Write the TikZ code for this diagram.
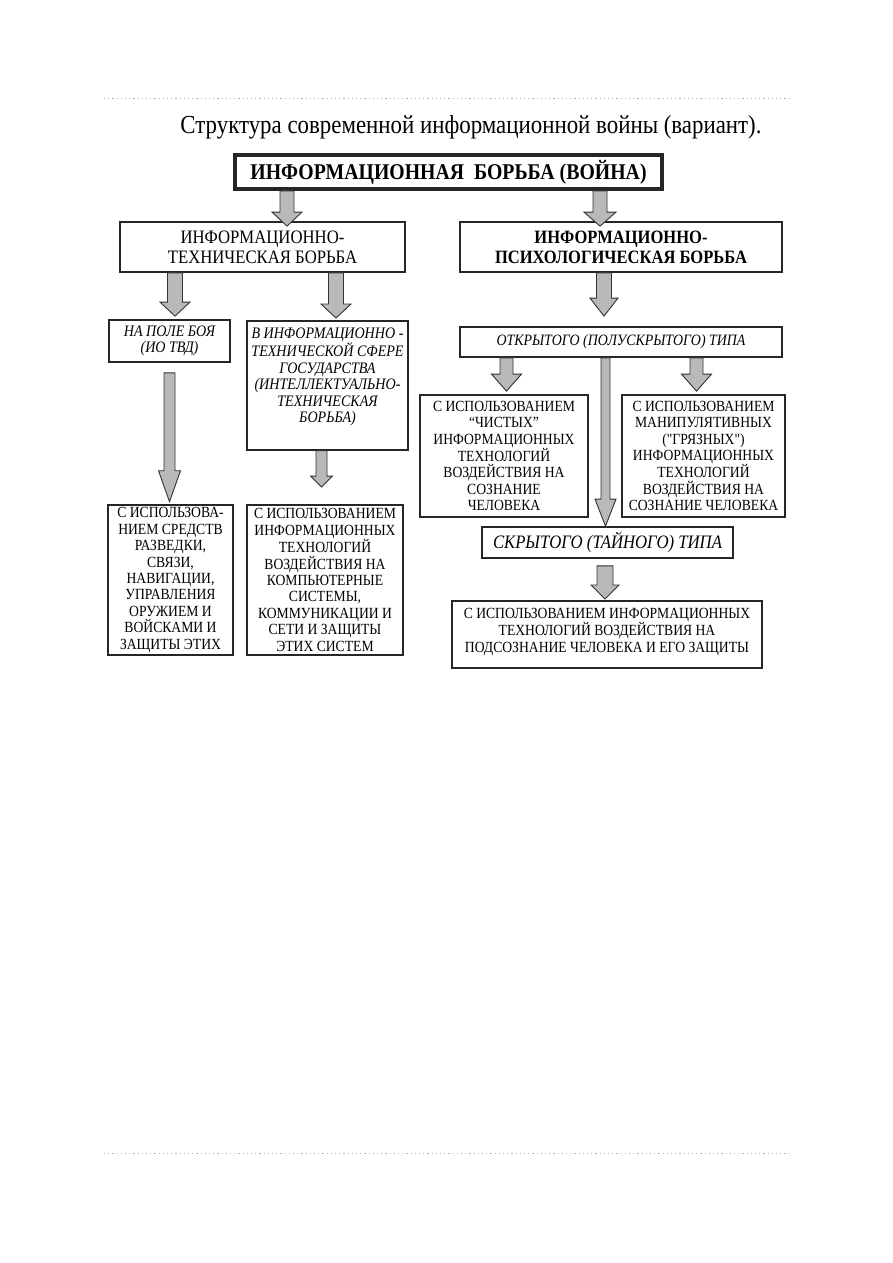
\documentclass[tikz,border=0pt]{standalone}
\usepackage{fontspec}
\setmainfont{Liberation Serif}[FakeStretch=0.88, Ligatures=TeXOff]
\usetikzlibrary{calc}

\newcommand{\blockarrow}[5]{%
  \draw[blockarrow] let \p1=#1, \p2=#2 in
    (\x1-#3pt,\y1) -- (\x1-#3pt,\y2+#5pt) -- (\x1-#4pt,\y2+#5pt) -- (\x1,\y2)
    -- (\x1+#4pt,\y2+#5pt) -- (\x1+#3pt,\y2+#5pt) -- (\x1+#3pt,\y1) -- cycle;}

\begin{document}
\begin{tikzpicture}[x=1pt, y=-1pt]
        \tikzset{
            box/.style={
                draw=black!85,
                line width=1.8pt,
                fill=white,
                align=center,
                inner sep=3pt,
                font=\fontsize{15.5}{16.4}\selectfont
            },
            mainbox/.style={
                box,
                line width=3.8pt,
                minimum width=427,
                minimum height=34,
                font=\fontsize{22.5}{24}\selectfont\bfseries
            },
            headbox/.style={
                box,
                minimum width=285,
                minimum height=50,
                font=\fontsize{19}{20}\selectfont
            },
            italbox/.style={
                box,
                font=\fontsize{16}{16.5}\selectfont\itshape
            },
            blockarrow/.style={draw=black!80, line width=0.9pt, fill=gray!55},
            pagerule/.style={draw=black!30, line width=1pt, dash pattern=on 1.2pt off 3pt}
        }
        \useasboundingbox (0,0) rectangle (893,1263);

        \draw[pagerule] (104,98) -- (790,98);
        \draw[pagerule] (104,1153) -- (790,1153);

        \node[font=\fontsize{26}{28}\selectfont] (caption) at (471,127)
            {Структура современной информационной войны (вариант).};

        \node[mainbox] (war) at (448.5,172) {ИНФОРМАЦИОННАЯ\ \ БОРЬБА (ВОЙНА)};

        \node[headbox] (itb) at (262.5,247) {ИНФОРМАЦИОННО-\\ТЕХНИЧЕСКАЯ БОРЬБА};
        \node[headbox, minimum width=322, font=\fontsize{18.8}{20}\selectfont\bfseries] (ipb) at (621,247)
            {ИНФОРМАЦИОННО-\\ПСИХОЛОГИЧЕСКАЯ БОРЬБА};

        \node[italbox, minimum width=121, minimum height=42] (field) at (169.5,341)
            {НА ПОЛЕ БОЯ\\(ИО ТВД)};
        \node[italbox, minimum width=161, anchor=north, text depth=20pt, inner ysep=7pt] (sphere) at (327.5,320)
            {В ИНФОРМАЦИОННО -\\ТЕХНИЧЕСКОЙ СФЕРЕ\\ГОСУДАРСТВА\\(ИНТЕЛЛЕКТУАЛЬНО-\\ТЕХНИЧЕСКАЯ\\БОРЬБА)};
        \node[italbox, minimum width=322, minimum height=30, font=\fontsize{15.8}{16.5}\selectfont\itshape] (open) at (621,342)
            {ОТКРЫТОГО (ПОЛУСКРЫТОГО) ТИПА};

        \node[box, minimum width=125, minimum height=150] (weapons) at (170.5,580)
            {С ИСПОЛЬЗОВА-\\НИЕМ СРЕДСТВ\\РАЗВЕДКИ,\\СВЯЗИ,\\НАВИГАЦИИ,\\УПРАВЛЕНИЯ\\ОРУЖИЕМ И\\ВОЙСКАМИ И\\ЗАЩИТЫ ЭТИХ};
        \node[box, minimum width=156, minimum height=150] (compsys) at (325,580)
            {С ИСПОЛЬЗОВАНИЕМ\\ИНФОРМАЦИОННЫХ\\ТЕХНОЛОГИЙ\\ВОЗДЕЙСТВИЯ НА\\КОМПЬЮТЕРНЫЕ\\СИСТЕМЫ,\\КОММУНИКАЦИИ И\\СЕТИ И ЗАЩИТЫ\\ЭТИХ СИСТЕМ};

        \node[box, minimum width=168, minimum height=122] (clean) at (504,456)
            {С ИСПОЛЬЗОВАНИЕМ\\“ЧИСТЫХ”\\ИНФОРМАЦИОННЫХ\\ТЕХНОЛОГИЙ\\ВОЗДЕЙСТВИЯ НА\\СОЗНАНИЕ\\ЧЕЛОВЕКА};
        \node[box, minimum width=163, minimum height=122] (dirty) at (703.5,456)
            {С ИСПОЛЬЗОВАНИЕМ\\МАНИПУЛЯТИВНЫХ\\("ГРЯЗНЫХ")\\ИНФОРМАЦИОННЫХ\\ТЕХНОЛОГИЙ\\ВОЗДЕЙСТВИЯ НА\\СОЗНАНИЕ ЧЕЛОВЕКА};

        \node[box, minimum width=251, minimum height=31, font=\fontsize{19}{20}\selectfont\itshape] (hidden) at (607.5,542.5)
            {СКРЫТОГО (ТАЙНОГО) ТИПА};
        \node[box, minimum width=310, anchor=north, text depth=9pt, inner ysep=7pt] (subcons) at (607,600)
            {С ИСПОЛЬЗОВАНИЕМ ИНФОРМАЦИОННЫХ\\ТЕХНОЛОГИЙ ВОЗДЕЙСТВИЯ НА\\ПОДСОЗНАНИЕ ЧЕЛОВЕКА И ЕГО ЗАЩИТЫ};

        \blockarrow{(war.south -| 287,0)}{($(itb.north -| 287,0)+(0,5)$)}{7}{15}{14}
        \blockarrow{(war.south -| 600,0)}{($(ipb.north -| 600,0)+(0,5)$)}{7}{16}{14}
        \blockarrow{(itb.south -| 175,0)}{($(field.north -| 175,0)+(0,-3)$)}{7.5}{15}{14}
        \blockarrow{(itb.south -| 336,0)}{($(sphere.north -| 336,0)+(0,-2)$)}{7.5}{15}{14}
        \blockarrow{(ipb.south -| 604,0)}{($(open.north -| 604,0)+(0,-10)$)}{7.5}{14}{18}
        \blockarrow{($(field.south)+(0,10)$)}{($(weapons.north -| field.south)+(0,-2)$)}{5.5}{11}{31}
        \blockarrow{(sphere.south -| 321.5,0)}{($(compsys.north -| 321.5,0)+(0,-17)$)}{5.5}{11}{11}
        \blockarrow{(open.south -| 506.5,0)}{($(clean.north -| 506.5,0)+(0,-3)$)}{6.5}{15}{17}
        \blockarrow{(open.south -| 696.5,0)}{($(dirty.north -| 696.5,0)+(0,-3)$)}{6.5}{15}{17}
        \blockarrow{(open.south -| 605.5,0)}{(hidden.north -| 605.5,0)}{4.5}{10.5}{27}
        \blockarrow{($(hidden.south -| 605,0)+(0,7)$)}{($(subcons.north -| 605,0)+(0,-1)$)}{8}{14}{14}
    \end{tikzpicture}
\end{document}
